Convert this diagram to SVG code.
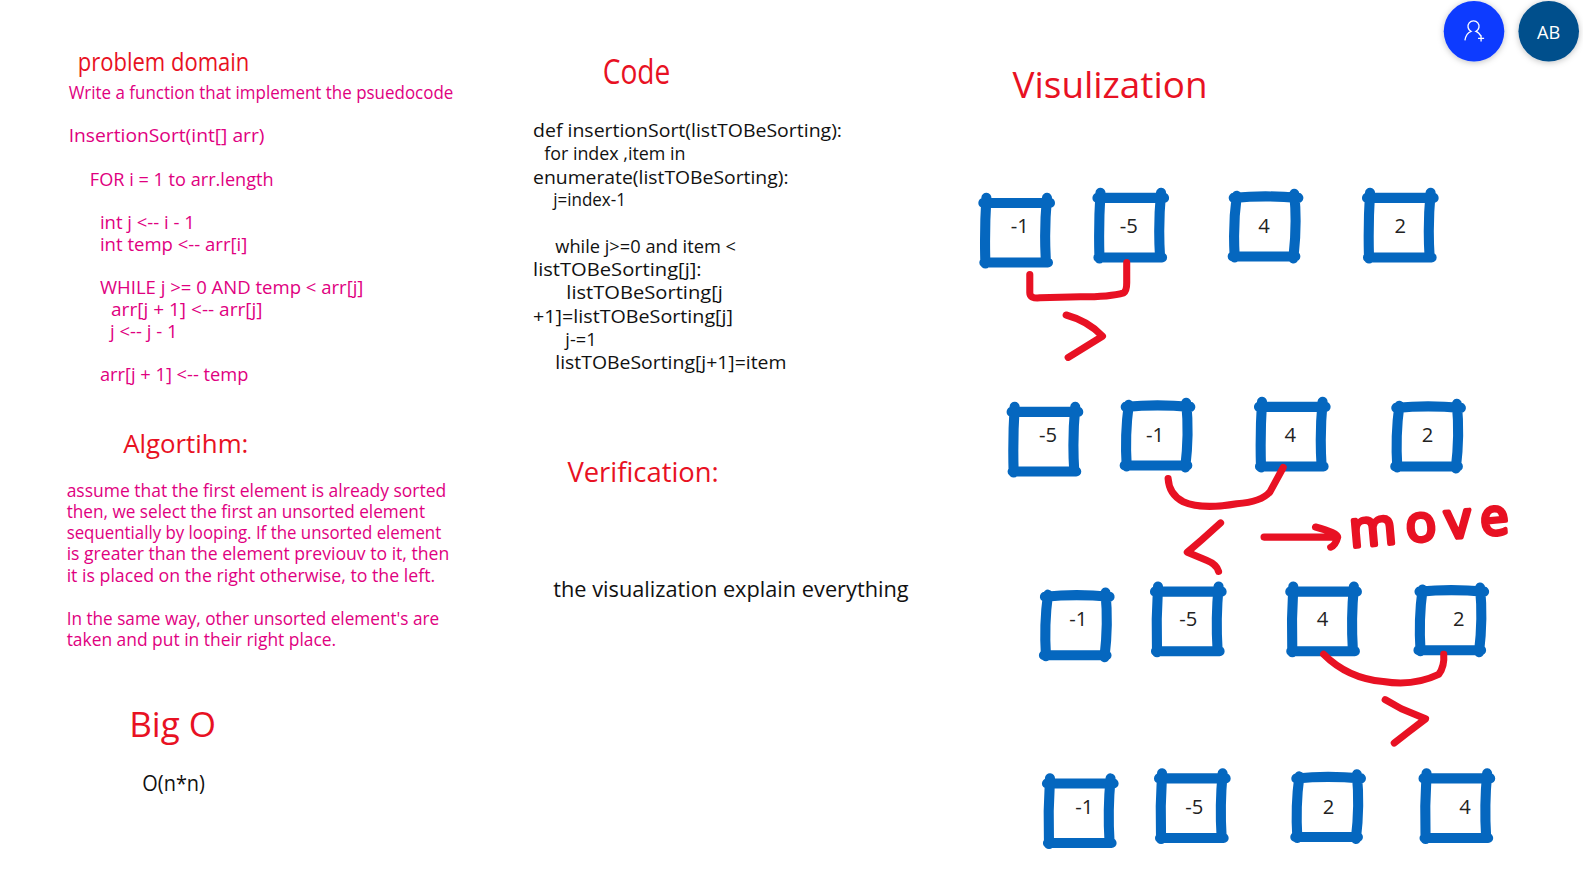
<svg xmlns="http://www.w3.org/2000/svg" width="1583" height="887" viewBox="0 0 1583 887">
<style>
text{font-family:"Open Sans","Liberation Sans",sans-serif;white-space:pre}
.p{fill:#e0007f;font-size:18px}
.h{fill:#e81123}
.c{fill:#111;font-size:18px}
.n{fill:#222;font-size:20px;text-anchor:middle}
.b{fill:none;stroke:#0567bf;stroke-width:10;stroke-linecap:round}
.r{fill:none;stroke:#e81123;stroke-width:7;stroke-linecap:round;stroke-linejoin:round}
</style>
<defs>
<path id="bB" d="M2 6H68M65 1Q62 33 64 64M3 65H66M5 1Q3 33 4 66"/>
<path id="bC" d="M4 6Q35 3 68 6M64 2Q67 33 63 66M3 64H65M7 4Q3 33 5 65"/>
<filter id="s" x="-30%" y="-30%" width="160%" height="160%"><feDropShadow dx="0" dy="1" stdDeviation="3" flood-opacity=".25"/></filter>
</defs>
<rect width="1583" height="887" fill="#fff"/>
<g id="page" transform="scale(1.0096)">

<g id="problem-domain">
<text class="h" x="77" y="70" font-size="25" textLength="170" lengthAdjust="spacingAndGlyphs">problem domain</text>
<text class="p" x="68" y="98" textLength="381" lengthAdjust="spacingAndGlyphs">Write a function that implement the psuedocode</text>
<text class="p" x="68" y="141" textLength="194" lengthAdjust="spacingAndGlyphs">InsertionSort(int[] arr)</text>
<text class="p" x="89" y="184" textLength="182" lengthAdjust="spacingAndGlyphs">FOR i = 1 to arr.length</text>
<text class="p" x="99" y="227" textLength="94" lengthAdjust="spacingAndGlyphs">int j &lt;-- i - 1</text>
<text class="p" x="99" y="249" textLength="146" lengthAdjust="spacingAndGlyphs">int temp &lt;-- arr[i]</text>
<text class="p" x="99" y="291" textLength="261" lengthAdjust="spacingAndGlyphs">WHILE j &gt;= 0 AND temp &lt; arr[j]</text>
<text class="p" x="110" y="313" textLength="150" lengthAdjust="spacingAndGlyphs">arr[j + 1] &lt;-- arr[j]</text>
<text class="p" x="109" y="335" textLength="67" lengthAdjust="spacingAndGlyphs">j &lt;-- j - 1</text>
<text class="p" x="99" y="377" textLength="147" lengthAdjust="spacingAndGlyphs">arr[j + 1] &lt;-- temp</text>
</g>

<g id="algorithm">
<text class="h" x="122" y="449" font-size="26" textLength="124" lengthAdjust="spacingAndGlyphs">Algortihm:</text>
<text class="p" x="66" y="492" textLength="376" lengthAdjust="spacingAndGlyphs">assume that the first element is already sorted</text>
<text class="p" x="66" y="513" textLength="355" lengthAdjust="spacingAndGlyphs">then, we select the first an unsorted element</text>
<text class="p" x="66" y="534" textLength="371" lengthAdjust="spacingAndGlyphs">sequentially by looping. If the unsorted element</text>
<text class="p" x="66" y="555" textLength="379" lengthAdjust="spacingAndGlyphs">is greater than the element previouv to it, then</text>
<text class="p" x="66" y="576" textLength="365" lengthAdjust="spacingAndGlyphs">it is placed on the right otherwise, to the left.</text>
<text class="p" x="66" y="619" textLength="369" lengthAdjust="spacingAndGlyphs">In the same way, other unsorted element's are</text>
<text class="p" x="66" y="640" textLength="267" lengthAdjust="spacingAndGlyphs">taken and put in their right place.</text>
</g>

<g id="big-o">
<text class="h" x="128" y="730" font-size="34" textLength="86" lengthAdjust="spacingAndGlyphs">Big O</text>
<text x="141" y="783" font-size="21" fill="#111" textLength="62" lengthAdjust="spacingAndGlyphs">O(n*n)</text>
</g>

<g id="code">
<text class="h" x="597" y="83" font-size="34" textLength="67" lengthAdjust="spacingAndGlyphs">Code</text>
<text class="c" x="528" y="136" textLength="306" lengthAdjust="spacingAndGlyphs">def insertionSort(listTOBeSorting):</text>
<text class="c" x="539" y="158" textLength="140" lengthAdjust="spacingAndGlyphs">for index ,item in</text>
<text class="c" x="528" y="182" textLength="253" lengthAdjust="spacingAndGlyphs">enumerate(listTOBeSorting):</text>
<text class="c" x="548" y="204" textLength="72" lengthAdjust="spacingAndGlyphs">j=index-1</text>
<text class="c" x="550" y="251" textLength="179" lengthAdjust="spacingAndGlyphs">while j&gt;=0 and item &lt;</text>
<text class="c" x="528" y="273" textLength="167" lengthAdjust="spacingAndGlyphs">listTOBeSorting[j]:</text>
<text class="c" x="561" y="296" textLength="155" lengthAdjust="spacingAndGlyphs">listTOBeSorting[j</text>
<text class="c" x="528" y="320" textLength="198" lengthAdjust="spacingAndGlyphs">+1]=listTOBeSorting[j]</text>
<text class="c" x="560" y="343" textLength="31" lengthAdjust="spacingAndGlyphs">j-=1</text>
<text class="c" x="550" y="366" textLength="229" lengthAdjust="spacingAndGlyphs">listTOBeSorting[j+1]=item</text>
</g>

<g id="verification">
<text class="h" x="562" y="477" font-size="27" textLength="150" lengthAdjust="spacingAndGlyphs">Verification:</text>
<text x="548" y="591" font-size="21" fill="#111" textLength="352" lengthAdjust="spacingAndGlyphs">the visualization explain everything</text>
</g>

<g id="visualization-title">
<text class="h" x="1003" y="97" font-size="36" textLength="193" lengthAdjust="spacingAndGlyphs">Visulization</text>
</g>

<g id="r1-a"><use class="b" href="#bB" x="972" y="195"/><text class="n" x="1010" y="231">-1</text></g>
<g id="r1-b"><use class="b" href="#bB" x="1085" y="190"/><text class="n" x="1118" y="231">-5</text></g>
<g id="r1-c"><use class="b" href="#bC" x="1218" y="190"/><text class="n" x="1252" y="231">4</text></g>
<g id="r1-d"><use class="b" href="#bB" x="1352" y="190"/><text class="n" x="1387" y="231">2</text></g>

<g id="r2-a"><use class="b" href="#bB" x="1000" y="402"/><text class="n" x="1038" y="438">-5</text></g>
<g id="r2-b"><use class="b" href="#bC" x="1111" y="397"/><text class="n" x="1144" y="438">-1</text></g>
<g id="r2-c"><use class="b" href="#bB" x="1245" y="397"/><text class="n" x="1278" y="438">4</text></g>
<g id="r2-d"><use class="b" href="#bC" x="1379" y="398"/><text class="n" x="1414" y="438">2</text></g>

<g id="r3-a"><use class="b" href="#bC" x="1031" y="585"/><text class="n" x="1068" y="620">-1</text></g>
<g id="r3-b"><use class="b" href="#bB" x="1142" y="580"/><text class="n" x="1177" y="620">-5</text></g>
<g id="r3-c"><use class="b" href="#bB" x="1276" y="580"/><text class="n" x="1310" y="620">4</text></g>
<g id="r3-d"><use class="b" href="#bC" x="1402" y="580"/><text class="n" x="1445" y="620">2</text></g>

<g id="r4-a"><use class="b" href="#bB" x="1035" y="770"/><text class="n" x="1074" y="806">-1</text></g>
<g id="r4-b"><use class="b" href="#bB" x="1146" y="765"/><text class="n" x="1183" y="806">-5</text></g>
<g id="r4-c"><use class="b" href="#bC" x="1280" y="765"/><text class="n" x="1316" y="806">2</text></g>
<g id="r4-d"><use class="b" href="#bB" x="1408" y="765"/><text class="n" x="1451" y="806">4</text></g>

<g id="connectors">
<path class="r" d="M1020 272V290Q1020 296 1030 295L1070 294Q1100 294 1113 290Q1116 288 1116 280V260"/>
<path class="r" d="M1056 312Q1078 318 1092 333Q1076 343 1058 354"/>
<path class="r" d="M1157 474Q1158 490 1172 497Q1190 505 1225 499Q1250 497 1258 487L1271 463"/>
<path class="r" d="M1209 518L1190 535L1176 547L1195 555Q1205 559 1207 566"/>
<path class="r" d="M1252 532H1322M1303 522Q1325 528 1325 532Q1323 540 1318 542"/>
<path class="r" d="M1311 648Q1335 672 1370 675Q1400 680 1425 668Q1431 660 1430 648"/>
<path class="r" d="M1372 693L1388 702L1412 712L1395 725L1381 736"/>
</g>

<g id="move">
<text x="1338" y="542" font-size="50" fill="#e81123" stroke="#e81123" stroke-width="4" stroke-linejoin="round" textLength="158" lengthAdjust="spacing" transform="rotate(-5 1338 542)">move</text>
</g>

<g id="invite-button">
<circle cx="1460" cy="31" r="30" fill="#0f3bff" filter="url(#s)"/>
<path d="M1451 40Q1452 33 1457 31A5.500 5.500 0 1 1 1462 31Q1465 32 1467 36M1464 38h6M1467 35v6" fill="none" stroke="#fff" stroke-width="1.300"/>
</g>
<g id="avatar">
<circle cx="1534" cy="31" r="30" fill="#034f8c" filter="url(#s)"/>
<text x="1534" y="39" font-size="18" fill="#fff" text-anchor="middle" font-family="Inter,sans-serif">AB</text>
</g>
</g>
</svg>
